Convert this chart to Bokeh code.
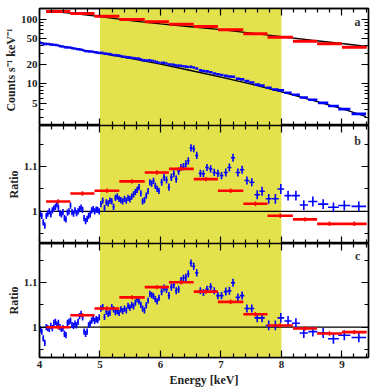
from bokeh.plotting import figure
from bokeh.layouts import column
from bokeh.models import (Range1d, FixedTicker, BoxAnnotation, Span, Label,
                          LinearAxis, LogAxis, CustomJSTickFormatter, ColumnDataSource,
                          CustomLabelingPolicy)
from bokeh.embed import file_html
from bokeh.resources import INLINE
import numpy as np

FONT = "Liberation Serif"
YELLOW = "#E4E24C"
RED = "#FF0000"
BLUE = "#0000FF"

# ---------------- data ----------------
# red (coarse) spectrum
red_e = [4.31, 4.71, 5.115, 5.53, 5.94, 6.345, 6.75, 7.16, 7.57, 7.98, 8.39, 8.795, 9.205]
red_hw = [0.2, 0.2, 0.205, 0.21, 0.2, 0.205, 0.2, 0.21, 0.2, 0.21, 0.2, 0.205, 0.205]
red_counts = [133, 124, 112, 100, 92, 84.5, 77.8, 69.2, 59.9, 53.1, 46.0, 41.9, 37.1]
red_ratio_b = [1.022, 1.040, 1.046, 1.067, 1.087, 1.095, 1.072, 1.046, 1.017, 0.990, 0.982, 0.972, 0.972]
red_ratio_c = [1.000, 1.027, 1.042, 1.067, 1.090, 1.101, 1.080, 1.057, 1.029, 1.004, 0.997, 0.986, 0.989]
red_err = [0.005, 0.005, 0.005, 0.005, 0.005, 0.005, 0.005, 0.005, 0.005, 0.005, 0.005, 0.005, 0.005]

# blue (fine) spectrum
blue_e = [4.0125, 4.0375, 4.0625, 4.0875, 4.1125, 4.1375, 4.1625, 4.1875, 4.2125, 4.2375,
          4.2625, 4.2875, 4.3125, 4.3375, 4.3625, 4.3875, 4.4125, 4.4375, 4.4625, 4.4875,
          4.5125, 4.5375, 4.5625, 4.5875, 4.6125, 4.6375, 4.6625, 4.6875, 4.7125, 4.7375,
          4.7625, 4.7875, 4.8125, 4.8375, 4.8625, 4.8875, 4.9125, 4.9375, 4.9625, 4.9875,
          5.015, 5.045, 5.075, 5.105, 5.135, 5.165, 5.195, 5.225, 5.255, 5.285,
          5.315, 5.345, 5.375, 5.405, 5.435, 5.465, 5.495, 5.525, 5.555, 5.585,
          5.615, 5.645, 5.675, 5.705, 5.735, 5.765, 5.795, 5.825, 5.855, 5.885,
          5.915, 5.945, 5.975,
          6.02, 6.06, 6.10, 6.14, 6.18, 6.22, 6.26, 6.30, 6.34, 6.38, 6.42, 6.46,
          6.505, 6.55, 6.60, 6.66, 6.71, 6.77, 6.83, 6.89, 6.95, 7.01,
          7.08, 7.14, 7.20, 7.28, 7.35, 7.43, 7.51, 7.60, 7.68, 7.79,
          7.90, 7.99, 8.11, 8.24, 8.37, 8.52, 8.69, 8.86, 9.04, 9.28]
blue_hw = [0.0125, 0.0125, 0.0125, 0.0125, 0.0125, 0.0125, 0.0125, 0.0125, 0.0125, 0.0125,
           0.0125, 0.0125, 0.0125, 0.0125, 0.0125, 0.0125, 0.0125, 0.0125, 0.0125, 0.0125,
           0.0125, 0.0125, 0.0125, 0.0125, 0.0125, 0.0125, 0.0125, 0.0125, 0.0125, 0.0125,
           0.0125, 0.0125, 0.0125, 0.0125, 0.0125, 0.0125, 0.0125, 0.0125, 0.0125, 0.0125,
           0.015, 0.015, 0.015, 0.015, 0.015, 0.015, 0.015, 0.015, 0.015, 0.015,
           0.015, 0.015, 0.015, 0.015, 0.015, 0.015, 0.015, 0.015, 0.015, 0.015,
           0.015, 0.015, 0.015, 0.015, 0.015, 0.015, 0.015, 0.015, 0.015, 0.015,
           0.015, 0.015, 0.015,
           0.02, 0.02, 0.02, 0.02, 0.02, 0.02, 0.02, 0.02, 0.02, 0.02, 0.02, 0.02,
           0.022, 0.023, 0.025, 0.027, 0.027, 0.03, 0.03, 0.03, 0.03, 0.032,
           0.033, 0.033, 0.035, 0.037, 0.037, 0.04, 0.042, 0.045, 0.045, 0.05,
           0.055, 0.055, 0.06, 0.065, 0.068, 0.075, 0.085, 0.09, 0.1, 0.12]
blue_counts = [43.5, 42.8, 41.8, 41.1, 41.7, 41.5, 41.3, 40.6, 40.6, 40.4,
               40.2, 40.1, 39.4, 38.5, 38.1, 37.9, 37.1, 36.6, 36.8, 36.6,
               36.7, 35.8, 35.4, 35.3, 34.7, 34.5, 34.3, 34.1, 33.6, 32.7,
               32.1, 32.0, 31.9, 31.7, 31.7, 31.5, 31.0, 30.8, 30.5, 30.1,
               30.3, 30.2, 29.4, 29.4, 29.0, 28.9, 28.5, 27.8, 28.0, 27.8,
               27.4, 27.0, 26.6, 26.4, 26.0, 25.9, 25.5, 25.4, 25.2, 25.0,
               24.8, 24.6, 24.0, 23.3, 23.1, 23.0, 23.0, 23.1, 22.8, 22.6,
               22.1, 21.7, 21.3,
               21.3, 21.2, 20.7, 20.0, 20.0, 19.8, 19.2, 19.2, 19.0, 18.7, 18.5, 18.2,
               18.3, 17.9, 17.3, 16.2, 15.8, 15.6, 15.1, 14.5, 14.1, 13.7,
               13.3, 13.0, 12.9, 12.0, 11.7, 11.0, 10.5, 9.71, 9.36, 8.67,
               8.15, 7.92, 7.28, 6.75, 6.12, 5.65, 5.05, 4.51, 4.04, 3.41]
blue_ratio_b = [0.995, 0.990, 0.975, 0.968, 0.990, 0.995, 1.000, 0.993, 1.002, 1.006,
                1.010, 1.016, 1.008, 0.996, 0.993, 0.998, 0.985, 0.982, 0.997, 1.000,
                1.013, 0.998, 0.995, 1.002, 0.996, 1.000, 1.005, 1.008, 1.003, 0.985,
                0.978, 0.983, 0.990, 0.993, 1.002, 1.005, 1.000, 1.004, 1.003, 1.000,
                1.016, 1.024, 1.007, 1.020, 1.018, 1.024, 1.022, 1.010, 1.030, 1.033,
                1.028, 1.025, 1.022, 1.028, 1.024, 1.030, 1.027, 1.033, 1.038, 1.043,
                1.048, 1.054, 1.040, 1.022, 1.025, 1.035, 1.045, 1.065, 1.062, 1.068,
                1.057, 1.050, 1.046,
                1.065, 1.076, 1.070, 1.054, 1.076, 1.084, 1.072, 1.090, 1.098, 1.100, 1.106, 1.113,
                1.142, 1.140, 1.125, 1.085, 1.084, 1.098, 1.095, 1.087, 1.085, 1.080,
                1.087, 1.098, 1.120, 1.087, 1.093, 1.069, 1.065, 1.037, 1.045, 1.028,
                1.028, 1.050, 1.035, 1.035, 1.014, 1.022, 1.016, 1.009, 1.013, 1.011]
blue_ratio_c = [0.995, 0.990, 0.975, 0.965, 1.000, 0.998, 0.996, 1.003, 0.998, 1.010,
                1.012, 1.006, 1.010, 1.000, 0.996, 0.998, 0.985, 0.982, 1.010, 1.012,
                1.015, 1.005, 1.003, 1.008, 1.004, 1.012, 1.025, 1.030, 1.022, 0.990,
                0.985, 0.990, 1.005, 1.008, 1.015, 1.020, 1.014, 1.018, 1.016, 1.022,
                1.042, 1.045, 1.023, 1.035, 1.030, 1.032, 1.045, 1.040, 1.034, 1.036,
                1.032, 1.040, 1.036, 1.042, 1.038, 1.048, 1.044, 1.050, 1.047, 1.055,
                1.063, 1.058, 1.050, 1.042, 1.038, 1.049, 1.060, 1.075, 1.072, 1.070,
                1.063, 1.058, 1.066,
                1.080, 1.088, 1.085, 1.071, 1.090, 1.095, 1.082, 1.085, 1.105, 1.110, 1.112, 1.120,
                1.144, 1.137, 1.122, 1.082, 1.078, 1.085, 1.091, 1.082, 1.071, 1.071,
                1.080, 1.082, 1.100, 1.067, 1.071, 1.042, 1.042, 1.021, 1.021, 1.004,
                1.004, 1.021, 1.014, 1.009, 0.987, 0.990, 0.987, 0.974, 0.982, 0.977]
blue_err = [0.007, 0.007, 0.007, 0.007, 0.007, 0.007, 0.007, 0.007, 0.007, 0.007,
            0.007, 0.007, 0.007, 0.007, 0.007, 0.007, 0.007, 0.007, 0.007, 0.007,
            0.007, 0.007, 0.007, 0.007, 0.007, 0.007, 0.007, 0.007, 0.007, 0.007,
            0.007, 0.007, 0.007, 0.007, 0.007, 0.007, 0.007, 0.007, 0.007, 0.007,
            0.007, 0.007, 0.007, 0.007, 0.007, 0.007, 0.007, 0.007, 0.007, 0.007,
            0.007, 0.007, 0.007, 0.007, 0.007, 0.007, 0.007, 0.007, 0.007, 0.007,
            0.007, 0.007, 0.007, 0.007, 0.007, 0.007, 0.007, 0.007, 0.007, 0.007,
            0.007, 0.007, 0.007,
            0.008, 0.008, 0.008, 0.008, 0.008, 0.008, 0.008, 0.008, 0.008, 0.008, 0.008, 0.008,
            0.008, 0.008, 0.008, 0.008, 0.008, 0.008, 0.008, 0.008, 0.008, 0.008,
            0.009, 0.009, 0.009, 0.009, 0.009, 0.009, 0.009, 0.010, 0.010, 0.011,
            0.011, 0.011, 0.011, 0.011, 0.011, 0.011, 0.011, 0.011, 0.011, 0.011]

# model curves (top panel)
red_model_e = [4.11, 4.5, 5.0, 5.5, 6.0, 6.5, 7.0, 7.5, 8.0, 8.5, 9.0, 9.41]
red_model = [135, 125, 111, 96, 85.5, 77.0, 69.5, 61.5, 54.0, 47.5, 42.3, 38.0]
blue_model_e = [4.0, 4.5, 5.0, 5.5, 6.0, 6.5, 7.0, 7.5, 8.0, 8.5, 9.0, 9.4]
blue_model = [43.9, 36.4, 30.0, 24.8, 20.2, 16.1, 12.7, 9.9, 7.5, 5.6, 4.1, 3.1]

band_lo, band_hi = 5.0, 8.0
x_ticks = [4, 5, 6, 7, 8, 9]
x_minor = [4.2, 4.4, 4.6, 4.8, 5.2, 5.4, 5.6, 5.8, 6.2, 6.4, 6.6, 6.8, 7.2, 7.4, 7.6, 7.8,
           8.2, 8.4, 8.6, 8.8, 9.2, 9.4]
log_ticks = [5, 10, 20, 50, 100]
log_minor = [3, 4, 6, 7, 8, 9, 30, 40, 60, 70, 80, 90]
ratio_ticks = [1.0, 1.1]
ratio_minor = [0.95, 1.05, 1.15]

# ---------------- helpers ----------------
fmt = CustomJSTickFormatter(code="return String(Math.round(tick*100)/100);")


def style_axis(ax, labels, lab_standoff=2, title_standoff=0):
    ax.major_tick_in = 7
    ax.major_tick_out = 0
    ax.minor_tick_in = 4
    ax.minor_tick_out = 0
    ax.axis_line_color = "black"
    ax.axis_line_width = 1.4
    ax.major_tick_line_width = 1.2
    ax.minor_tick_line_width = 1.2
    ax.major_label_text_font = FONT
    ax.major_label_text_font_style = "bold"
    ax.major_label_text_color = "#222222"
    ax.axis_label_text_font = FONT
    ax.axis_label_text_font_style = "bold"
    ax.axis_label_text_font_size = "12px"
    ax.axis_label_text_line_height = 1.0
    ax.axis_label_text_color = "#222222"
    ax.axis_label_standoff = title_standoff
    if labels:
        ax.major_label_text_font_size = "11px"
        ax.major_label_standoff = lab_standoff
    else:
        ax.major_label_text_font_size = "0px"
        ax.major_label_standoff = 0
        ax.major_label_policy = CustomLabelingPolicy(code="return [];")
    return ax


x_range = Range1d(4.0, 9.44)


def make_fig(height, y_range, log, top, bottom):
    p = figure(width=371, height=height, x_range=x_range, y_range=y_range,
               y_axis_type="log" if log else "linear",
               x_axis_location=None, y_axis_location=None,
               output_backend="svg", toolbar_location=None,
               min_border_left=39, min_border_right=3,
               min_border_top=top, min_border_bottom=bottom)
    p.outline_line_color = "black"
    p.outline_line_width = 1.4
    p.background_fill_color = "white"
    p.border_fill_color = "white"
    p.grid.visible = False
    p.add_layout(BoxAnnotation(left=band_lo, right=band_hi, fill_color=YELLOW,
                               fill_alpha=1.0, line_color=None, level="underlay"))
    return p


def add_axes(p, log, yticks, yminor, ylabel, xlabels, xlabel=None):
    yt = FixedTicker(ticks=yticks, minor_ticks=yminor)
    xt = FixedTicker(ticks=x_ticks, minor_ticks=x_minor)
    Y = LogAxis if log else LinearAxis
    left = style_axis(Y(ticker=yt, formatter=fmt, axis_label=ylabel), True)
    right = style_axis(Y(ticker=yt, formatter=fmt), False)
    above = style_axis(LinearAxis(ticker=xt, formatter=fmt), False)
    below = style_axis(LinearAxis(ticker=xt, formatter=fmt, axis_label=xlabel), xlabels,
                       lab_standoff=3, title_standoff=2)
    p.add_layout(left, "left")
    p.add_layout(right, "right")
    p.add_layout(above, "above")
    p.add_layout(below, "below")


def seg_source(e, hw, y, err):
    e = np.asarray(e, float)
    hw = np.asarray(hw, float)
    y = np.asarray(y, float)
    err = np.asarray(err, float)
    return ColumnDataSource(dict(x0=e - hw, x1=e + hw, xc=e, y=y,
                                 ylo=y - err, yhi=y + err))


def draw_data(p, src, color, hlw, vlw):
    p.segment(x0="x0", y0="y", x1="x1", y1="y", source=src, line_color=color, line_width=hlw)
    p.segment(x0="xc", y0="ylo", x1="xc", y1="yhi", source=src, line_color=color, line_width=vlw)


def panel_label(p, x, y, t):
    p.add_layout(Label(x=x, y=y, text=t, text_font=FONT, text_font_style="bold",
                       text_font_size="12px", text_align="center", text_baseline="middle",
                       text_color="#333333"))


# ---------------- panel a ----------------
pa = make_fig(125, Range1d(2.25, 148), True, 8, 0)
add_axes(pa, True, log_ticks, log_minor, "Counts  s\u207b\u00b9  keV\u207b\u00b9", False)
pa.line(red_model_e, red_model, line_color="black", line_width=1.3)
pa.line(blue_model_e, blue_model, line_color="black", line_width=1.3)
rc = np.asarray(red_counts, float)
src_ra = ColumnDataSource(dict(x0=np.asarray(red_e) - np.asarray(red_hw),
                               x1=np.asarray(red_e) + np.asarray(red_hw), y=rc))
pa.segment(x0="x0", y0="y", x1="x1", y1="y", source=src_ra, line_color=RED, line_width=3)
bc = np.asarray(blue_counts, float)
src_ba = ColumnDataSource(dict(x0=np.asarray(blue_e) - np.asarray(blue_hw),
                               x1=np.asarray(blue_e) + np.asarray(blue_hw), y=bc))
pa.segment(x0="x0", y0="y", x1="x1", y1="y", source=src_ba, line_color=BLUE, line_width=2.6)
panel_label(pa, 9.26, 90, "a")

# ---------------- panel b ----------------
pb = make_fig(118, Range1d(0.928, 1.192), False, 0, 0)
add_axes(pb, False, ratio_ticks, ratio_minor, "Ratio", False)
pb.add_layout(Span(location=1.0, dimension="width", line_color="black",
                   line_width=1.3, level="underlay"))
draw_data(pb, seg_source(blue_e, blue_hw, blue_ratio_b, blue_err), BLUE, 1.6, 1.6)
draw_data(pb, seg_source(red_e, red_hw, red_ratio_b, red_err), RED, 2.6, 1.6)
panel_label(pb, 9.26, 1.158, "b")

# ---------------- panel c ----------------
pc = make_fig(146, Range1d(0.932, 1.188), False, 0, 29)
add_axes(pc, False, ratio_ticks, ratio_minor, "Ratio", True, "Energy [keV]")
pc.add_layout(Span(location=1.0, dimension="width", line_color="black",
                   line_width=1.3, level="underlay"))
draw_data(pc, seg_source(blue_e, blue_hw, blue_ratio_c, blue_err), BLUE, 1.6, 1.6)
draw_data(pc, seg_source(red_e, red_hw, red_ratio_c, red_err), RED, 2.6, 1.6)
panel_label(pc, 9.26, 1.16, "c")

layout = column(pa, pb, pc, spacing=0)
open("out.html", "w").write(file_html(layout, INLINE))
